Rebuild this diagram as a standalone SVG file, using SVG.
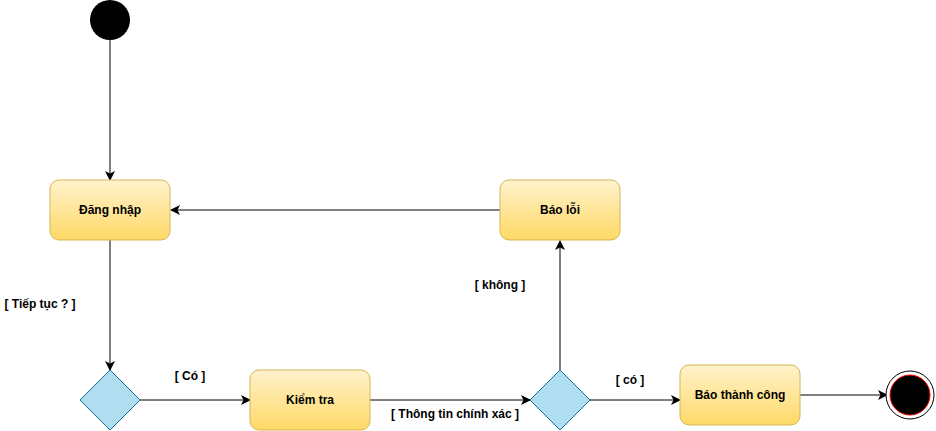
<svg xmlns="http://www.w3.org/2000/svg" width="936" height="431" viewBox="0 0 936 431">
<defs>
<linearGradient id="yg" x1="0" y1="0" x2="0" y2="1">
<stop offset="0" stop-color="#fff2cc"/>
<stop offset="1" stop-color="#ffd966"/>
</linearGradient>
<marker id="arr" viewBox="0 0 10 10" refX="9" refY="5" markerWidth="10" markerHeight="10" markerUnits="userSpaceOnUse" orient="auto">
<path d="M0,0 L10,5 L0,10 L2.5,5 Z" fill="#000"/>
</marker>
</defs>
<style>
.act{fill:url(#yg);stroke:#d6b656;stroke-width:1}
.dec{fill:#b1ddf0;stroke:#10739e;stroke-width:1}
.edge{fill:none;stroke:#000;stroke-width:1;marker-end:url(#arr)}
text{font-family:"Liberation Sans",Arial,sans-serif;font-size:12px;font-weight:bold;fill:#000}
.c{text-anchor:middle;dominant-baseline:central}
</style>
<rect width="936" height="431" fill="#fff"/>
<g id="connectors">
<path class="edge" d="M110,40 L110,180"/>
<path class="edge" d="M500,210 L171,210"/>
<path class="edge" d="M110,240 L110,370"/>
<path class="edge" d="M140,400 L250,400"/>
<path class="edge" d="M370,400 L530,400"/>
<path class="edge" d="M560,370 L560,241"/>
<path class="edge" d="M590,400 L680,400"/>
<path class="edge" d="M800,395 L887,395"/>
<text x="40" y="304" class="c">[ Tiếp tục ? ]</text>
<text x="190" y="376" class="c">[ Có ]</text>
<text x="455" y="414" class="c">[ Thông tin chính xác ]</text>
<text x="500" y="285" class="c">[ không ]</text>
<text x="630" y="380" class="c">[ có ]</text>
</g>
<g id="start"><circle cx="110" cy="20" r="20" fill="#000"/></g>
<g id="dang-nhap"><rect class="act" x="50" y="180" width="120" height="60" rx="9"/><text x="110" y="210" class="c">Đăng nhập</text></g>
<g id="bao-loi"><rect class="act" x="500" y="180" width="120" height="60" rx="9"/><text x="560" y="210" class="c">Báo lỗi</text></g>
<g id="decision1"><path class="dec" d="M110,370 L140,400 L110,430 L80,400 Z"/></g>
<g id="kiem-tra"><rect class="act" x="250" y="370" width="120" height="60" rx="9"/><text x="310" y="400" class="c">Kiểm tra</text></g>
<g id="decision2"><path class="dec" d="M560,370 L590,400 L560,430 L530,400 Z"/></g>
<g id="bao-thanh-cong"><rect class="act" x="680" y="365" width="120" height="60" rx="9"/><text x="740" y="395" class="c">Báo thành công</text></g>
<g id="end"><circle cx="910" cy="395" r="24" fill="#fff" stroke="#000" stroke-width="1"/><circle cx="910" cy="395" r="20" fill="#000" stroke="#ff0000" stroke-width="1"/></g>
</svg>
